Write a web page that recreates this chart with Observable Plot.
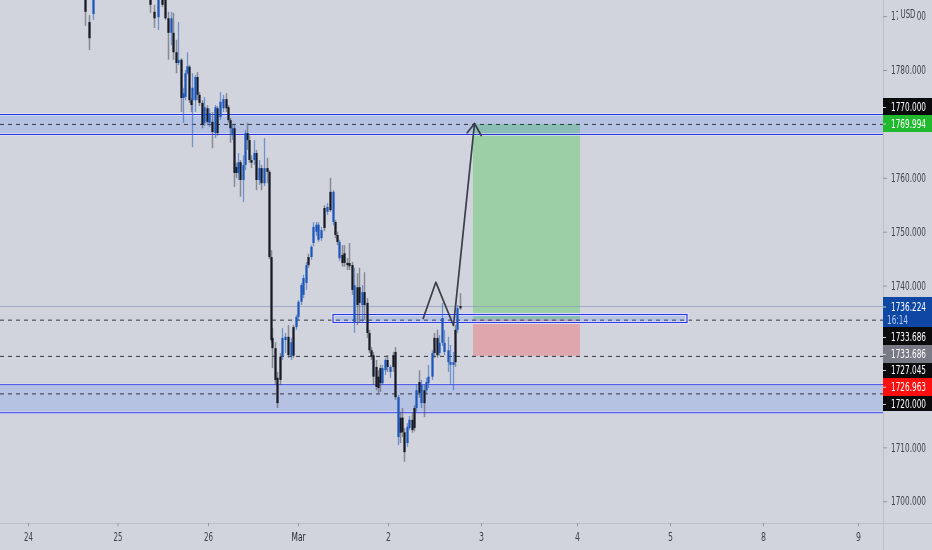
<!DOCTYPE html>
<html><head><meta charset="utf-8">
<style>html,body{margin:0;padding:0;background:#d1d4dc}svg{display:block;filter:blur(.3px)}</style>
<script src="https://cdn.jsdelivr.net/npm/d3@7"></script>
<script src="https://cdn.jsdelivr.net/npm/@observablehq/plot@0.6"></script>
</head><body><div id="c"></div>
<script>
// candle time in minutes since the 24th, candle body top/bottom, wick high/low, direction (U up, D down)
const candleTime=[912,976,1040,
1952,2016,2080,2144,2192,2240,2288,2320,2368,2400,2448,2480,2512,2544,2576,2608,2624,2672,2704,2736,2784,2816,2864,2896,2944,2992,3024,3072,3120,3168,3200,3232,3264,3296,3328,3360,3392,3440,3472,3504,3536,3568,3616,3648,3696,3728,3776,3824,
3856,3888,3904,3952,3984,4032,4064,4112,4160,4208,4240,4288,4320,4368,4400,4448,4480,4528,4560,4608,4640,4688,4736,4784,4832,4880,4912,4944,4976,5024,5056,5104,5136,5184,5216,5264,5296,5344,5376,5424,5456,5488,5520,5568,5600,5632,5664,5712,5744,5792,5840,5872,5920,5952,5984,6016,6064,6096,6144,6176,6208,6256,6288,6336,6368,6400,6464,6496,6544,6576,6624,6656,6720,6752,6800,6832,6864,6912];
const bodyTop=[1793.9,1788.9,1793.5,
1793,1790.8,1793,1793,1793,1789.6,1789.6,1786.9,1783.3,1781.9,1781.9,1775.7,1779.4,1780.7,1780.6,1774.4,1776.7,1778.7,1778.7,1775.4,1773.9,1773.1,1772.9,1772,1770.4,1773.1,1772.9,1774.1,1774.6,1774.6,1773.1,1770.7,1769.2,1769.2,1762,1762.9,1762.9,1762.4,1768.3,1768.3,1767,1763.3,1764.6,1764.6,1761.8,1761.8,1761.8,1761.8,
1761.1,1745.3,1730.3,1728.4,1722.9,1726.8,1730.3,1730.5,1730.5,1729.5,1732.3,1734.2,1737,1740.1,1741.4,1743.8,1745.3,1747.2,1750.9,1751.3,1751.3,1750.3,1754.4,1754.6,1757.4,1757.4,1751.8,1749.4,1748.1,1745.7,1746,1744.2,1744.2,1743.8,1740.1,1739.7,1739.7,1738.8,1738.8,1736.8,1731.2,1728,1727.1,1724.9,1723.1,1724.7,1724.7,1726.2,1726.2,1724.9,1727.1,1727.7,1719.3,1715.5,1715.5,1712.8,1713.8,1715.1,1715.1,1717.3,1720.6,1722.1,1721.6,1720.6,1722.1,1723.1,1727.5,1730.3,1730.3,1729.4,1734,1729.4,1728,1725.8,1725.8,1731.8,1735.8,1736.2];
const bodyBottom=[1790.8,1785.9,1790.4,
1792.1,1789.6,1789.8,1792.1,1789.6,1786.9,1786.9,1783.3,1781.3,1781.3,1774.8,1774.8,1775,1779.4,1774.4,1773.5,1774.4,1774.4,1775.4,1773.9,1769.8,1770.2,1770.4,1770.2,1768.5,1768.3,1768.3,1771.3,1772.9,1772.9,1770.7,1769.2,1767.9,1760.9,1760.9,1760.9,1759.6,1759.6,1762.4,1767,1763.3,1762.8,1763.3,1759.6,1759.6,1759,1759,1761.1,
1745.3,1729.9,1728.4,1722.5,1718.2,1722.5,1726.8,1729.9,1727.1,1727,1727,1732.3,1734.2,1737,1738.3,1740.5,1743.8,1745.3,1747.9,1750,1748.5,1748.8,1750.7,1753.7,1754,1751.8,1749.4,1748.1,1745.1,1744.2,1744.2,1743.8,1743.6,1739.2,1733.2,1736.4,1736.8,1736.4,1736.4,1731.2,1728,1726.8,1723.1,1721.2,1721,1721.9,1721.9,1724.3,1724.9,1724,1724.9,1719.3,1711.9,1712.7,1712.8,1709.1,1710.8,1713.6,1713.2,1713.6,1717.3,1720.1,1718.2,1718.2,1720.6,1721.9,1723.1,1727.5,1727.1,1727.5,1729.4,1727.7,1725.8,1725.3,1725.3,1725.8,1731.8,1735.8];
const wickHigh=[1793.9,1790.2,1793.9,
1793.5,1792.1,1793.5,1793.5,1793.5,1790.8,1790.8,1790.6,1785.6,1788.9,1782.2,1776.7,1780,1783.3,1780.9,1774.8,1779.4,1779.1,1779.6,1775.9,1774.4,1775,1773.5,1772.9,1772.2,1773.5,1773.3,1775.9,1775.4,1775.7,1773.5,1771.1,1770,1769.8,1762.8,1764.6,1763.3,1764.2,1768.9,1770.2,1767.9,1764.2,1767,1765.2,1763.3,1762.4,1767.4,1763.7,
1761.4,1746.6,1732.1,1729.5,1724,1727.5,1732.1,1731.2,1732.7,1730.3,1732.7,1734.6,1737.3,1740.5,1742,1744.4,1745.9,1747.5,1751.8,1751.8,1751.8,1750.9,1754.9,1755.3,1760,1757.7,1752.2,1750,1748.5,1747.5,1747.5,1745.1,1747.9,1744.4,1743.3,1742.3,1743.3,1740.1,1742.5,1737.7,1731.8,1728.6,1727.7,1726.2,1724.3,1725.3,1725.3,1726.6,1727.1,1725.3,1727.7,1728.6,1719.7,1716.6,1717.3,1713.6,1714.5,1715.8,1716.4,1717.8,1721.6,1724.3,1722.5,1721.6,1722.9,1725.3,1728,1731.2,1731.8,1730.8,1736.8,1731.8,1730.5,1729,1727.7,1732.7,1736.4,1738.6];
const wickLow=[1788.2,1783.7,1789.3,
1790.6,1787.8,1787.4,1791.7,1789.3,1781.9,1784.6,1781.9,1779.4,1780.9,1772.2,1770.2,1774.4,1779.1,1773.9,1772.2,1765.7,1772.2,1774.4,1773.3,1769.2,1769.6,1769.8,1769.4,1765.5,1767.4,1767.8,1770.7,1772.2,1772.2,1770.2,1766.5,1767,1758.3,1760,1759.6,1756.5,1755.5,1761.4,1765.2,1762.8,1761.8,1762.4,1757.7,1758.7,1757.7,1758.5,1759,
1744.9,1729.5,1724.7,1721.6,1717.3,1721.6,1726.2,1727.5,1726.6,1726.2,1726.6,1731.8,1733.6,1736.4,1737.7,1739.2,1743.3,1744.8,1747.3,1749.2,1748.1,1748.3,1750.1,1753.1,1753.7,1751.2,1748.8,1747.5,1744.6,1743.5,1743.5,1742.9,1742.9,1738.3,1731.2,1732.7,1733.2,1733.2,1733.6,1730.3,1727.5,1726.2,1721.6,1720.6,1720.1,1720.3,1721.6,1723.4,1724,1722.9,1724,1718.8,1710.4,1710.8,1711.9,1707.3,1710.1,1713.2,1712.7,1713,1716.6,1719.2,1717.3,1715.6,1720.1,1721,1722.5,1726.6,1726.6,1727,1728.8,1727.1,1724,1721.6,1720.6,1724.9,1731.2,1735.5];
const candleDir=("DDU"+"DDUDDDUDDUDUUUDDUUDDDUDUDUDUUDDDUDDUDUUDDDUDUDUD"+"D"+"DDDDDUUDUDUUUUUDUUUUUDUDUDDUDDDDDUDDUDDDDDDDDUUDUDDUDDDUUDDUDUDUUUDDUUUUUUDUDDDDUUUU").split("");

const gridTicks=[1790,1780,1760,1750,1740,1710,1700];
const dayLabels=["24","25","26","Mar","2","3","4","5","8","9"];
const dayTicks=[0,1432,2880,4320,5760,7248,8784,10272,11760,13280];
const priceLevels=[1770,1733.686,1726.963,1720];
const currentPrice=1736.224;
const zoneTop=[1771.84,1721.69],zoneBottom=[1768.13,1716.5];
const targetBox={t1:7120,t2:8832,p1:1770,p2:1733.686};
const stopBox={t1:7120,t2:8832,p1:1733.686,p2:1726.963};
const entryZone={t1:4880,t2:10544,p1:1734.64,p2:1733.16};
const pathTime=[6315,6517,6800,7136],pathPrice=[1733.99,1740.73,1732.69,1770.17];
const headTime=[7019,7136,7243],headPrice=[1768.44,1770.17,1767.94];
const tagText=["1770.000","1769.994","1736.224","1733.686","1733.686","1727.045","1726.963","1720.000"];
const tagColor=["#0b0b0e","#21b92e","#0f47a5","#0b0b0e","#787b86","#0b0b0e","#fb0f0f","#0b0b0e"];
const tagTop=[1774.81,1771.65,1737.89,1732.32,1728.98,1725.64,1722.86,1719.52];
const tagBottom=[1771.65,1768.5,1732.32,1728.98,1725.64,1722.86,1719.52,1716.74];
const tagMid=[1773.14,1770.08,1736.13,1730.47,1727.31,1724.35,1721.25,1718.04];

const tMin=-448,tMax=14464,tChart=13680,tLabel=14080;
const pTop=1792.99,pBottom=1690.95,pAxis=1695.96,pDayText=1693.36;
const candles=candleTime.map((t,i)=>({t,top:bodyTop[i],bottom:bodyBottom[i],high:wickHigh[i],low:wickLow[i],dir:candleDir[i]}));
const ups=candles.filter(d=>d.dir==="U"),downs=candles.filter(d=>d.dir==="D");
const zones=zoneTop.map((p,i)=>({p1:p,p2:zoneBottom[i]}));
const path=pathTime.map((t,i)=>({t,p:pathPrice[i]}));
const head=headTime.map((t,i)=>({t,p:headPrice[i]}));
const tags=tagText.map((s,i)=>({s,c:tagColor[i],top:tagTop[i],bottom:tagBottom[i],mid:tagMid[i]}));
const font="'DejaVu Sans Condensed','DejaVu Sans',sans-serif";
const lineBlue="#2b35e8";

const chart=Plot.plot({
  width:932,height:550,marginTop:0,marginRight:0,marginBottom:0,marginLeft:0,
  style:{background:"#d1d4dc",overflow:"hidden"},
  x:{domain:[tMin,tMax],range:[0,932],axis:null},
  y:{domain:[pBottom,pTop],range:[550,0],axis:null},
  marks:[
    Plot.rect([targetBox],{x1:"t1",x2:"t2",y1:"p1",y2:"p2",fill:"#9dcfa6"}),
    Plot.rect([stopBox],{x1:"t1",x2:"t2",y1:"p1",y2:"p2",fill:"#dea7ae"}),
    Plot.rect(zones,{x1:tMin,x2:tChart,y1:"p1",y2:"p2",fill:"#2962ff",fillOpacity:0.16}),
    Plot.ruleY([currentPrice],{x1:tMin,x2:tChart,stroke:"#8d9ab8",strokeOpacity:0.7,strokeWidth:1}),
    Plot.ruleY(priceLevels,{x1:tMin,x2:tChart,stroke:"#33363f",strokeWidth:1,strokeDasharray:"4 4"}),
    Plot.ruleY(zoneTop.concat(zoneBottom),{x1:tMin,x2:tChart,stroke:"#e9ecf3",strokeOpacity:0.7,strokeWidth:2.6}),
    Plot.ruleY(zoneTop.concat(zoneBottom),{x1:tMin,x2:tChart,stroke:lineBlue,strokeWidth:1.1}),
    Plot.rect([entryZone],{x1:"t1",x2:"t2",y1:"p1",y2:"p2",fill:"#2962ff",fillOpacity:0.16,stroke:"#eef0f6",strokeWidth:3}),
    Plot.rect([entryZone],{x1:"t1",x2:"t2",y1:"p1",y2:"p2",fill:"none",stroke:lineBlue,strokeWidth:1.2}),
    Plot.ruleX(downs,{x:"t",y1:"low",y2:"high",stroke:"#4a4d58",strokeOpacity:0.55,strokeWidth:1.5}),
    Plot.ruleX(ups,{x:"t",y1:"low",y2:"high",stroke:"#2f66c4",strokeOpacity:0.6,strokeWidth:1.3}),
    Plot.ruleX(downs,{x:"t",y1:"bottom",y2:"top",stroke:"#161a26",strokeWidth:2.2}),
    Plot.ruleX(ups,{x:"t",y1:"bottom",y2:"top",stroke:"#1c56ba",strokeWidth:2.2}),
    Plot.line(path,{x:"t",y:"p",stroke:"#3a3d4a",strokeWidth:1.7}),
    Plot.line(head,{x:"t",y:"p",stroke:"#3a3d4a",strokeWidth:1.7}),
    // price axis
    Plot.ruleX([tChart],{y1:pBottom,y2:pTop,stroke:"#bdc0c9",strokeWidth:1}),
    Plot.ruleY([pAxis],{x1:tMin,x2:tMax,stroke:"#bdc0c9",strokeWidth:1}),
    Plot.ruleY(gridTicks,{x1:tChart,x2:tChart+64,stroke:"#9598a1",strokeWidth:1}),
    Plot.text(gridTicks,{x:tLabel,y:d=>d,text:d=>d.toFixed(3),fontFamily:font,fontSize:11.5,fill:"#40434e"}),
    Plot.rect([1],{x1:13920,x2:14224,y1:1791.88,y2:1788.9,fill:"#d1d4dc"}),
    Plot.text(["USD"],{x:14072,y:1790.4,fontFamily:font,fontSize:11.5,fill:"#3f424d"}),
    // price tags
    Plot.rect(tags,{x1:tChart,x2:tMax,y1:"bottom",y2:"top",fill:"c"}),
    Plot.ruleY(tagMid,{x1:tChart,x2:tChart+48,stroke:"#d1d4dc",strokeWidth:1}),
    Plot.text(tags,{x:tLabel,y:"mid",text:"s",fontFamily:font,fontSize:11.5,fill:"#fff"}),
    Plot.text(["16:14"],{x:13904,y:1733.62,fontFamily:font,fontSize:11.5,fill:"#b9cdf0"}),
    // time axis
    Plot.ruleX(dayTicks,{y1:pAxis,y2:pAxis-0.6,stroke:"#9598a1",strokeWidth:1}),
    Plot.text(dayLabels,{x:(d,i)=>dayTicks[i],y:pDayText,text:d=>d,fontFamily:font,fontSize:11.5,fontWeight:d=>d==="Mar"?"bold":"normal",fill:d=>d==="Mar"?"#23252e":"#40434e"})
  ]
});
document.getElementById("c").appendChild(chart);
// squeeze the labels horizontally to the reference's narrow letterforms
const narrowWidth=s=>/^\d{4}\.\d{3}$/.test(s)?35:s==="16:14"?21:s==="USD"?15:s==="Mar"?14:s.length===2?9:5;
chart.querySelectorAll("text").forEach(el=>{
  const s=el.textContent, natural=el.getComputedTextLength();
  if(natural>0) el.setAttribute("transform",(el.getAttribute("transform")||"")+` scale(${narrowWidth(s)/natural},1)`);
});
</script></body></html>
